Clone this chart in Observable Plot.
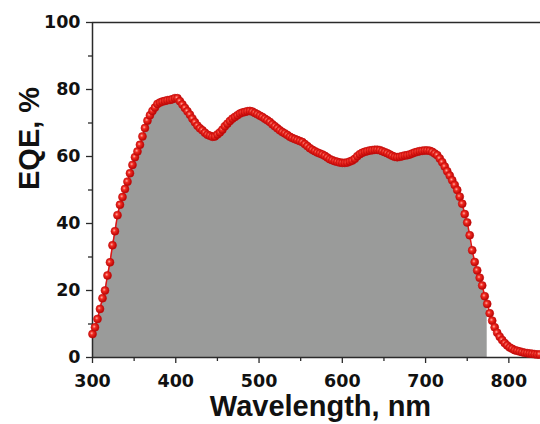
<!DOCTYPE html>
<html>
<head>
<meta charset="utf-8">
<script src="https://cdn.jsdelivr.net/npm/d3@7"></script>
<script src="https://cdn.jsdelivr.net/npm/@observablehq/plot@0.6"></script>
<style>
html, body { margin: 0; padding: 0; background: #fff; overflow: hidden; }
#chart { width: 540px; height: 424px; overflow: hidden; }
</style>
</head>
<body>
<div id="chart"></div>
<script>
const wavelength = [
300,303,306,309,312,315,318,321,324,327,330,333,336,339,342,345,348,351,354,357,
360,363,366,369,372,375,378,381,384,387,390,393,396,399,402,405,408,411,414,417,
420,423,426,429,432,435,438,441,444,447,450,453,456,459,462,465,468,471,474,477,
480,483,486,489,492,495,498,501,504,507,510,513,516,519,522,525,528,531,534,537,
540,543,546,549,552,555,558,561,564,567,570,573,576,579,582,585,588,591,594,597,
600,603,606,609,612,615,618,621,624,627,630,633,636,639,642,645,648,651,654,657,
660,663,666,669,672,675,678,681,684,687,690,693,696,699,702,705,708,711,714,717,
720,723,726,729,732,735,738,741,744,747,750,753,756,759,762,765,768,771,774,777,
780,783,786,789,792,795,798,801,804,807,810,813,816,819,822,825,828,831,834,837
];
const eqe = [
7,9,11.5,14.5,17.7,20,24.5,28.4,33.5,37.7,42.5,45.6,47.9,50.3,52.5,55,57.5,59.8,61.5,63.5,
66,68.5,70.7,72.3,73.6,74.6,75.7,76.1,76.4,76.6,76.8,76.9,77.1,77.4,77.4,76.5,75.5,74.5,73.5,72.5,
71.3,70.2,69.2,68.4,67.8,67.1,66.5,66.2,65.9,66,66.6,67.2,68,69,69.8,70.6,71.3,71.8,72.3,72.8,
73.1,73.3,73.5,73.6,73.4,73,72.6,72.2,71.8,71.3,70.8,70.3,69.6,69,68.4,67.8,67.3,66.9,66.4,65.9,
65.5,65.2,64.9,64.6,64.3,63.7,63.1,62.5,62,61.6,61.2,60.9,60.6,60.2,59.7,59.2,58.9,58.6,58.4,58.2,
58.1,58.1,58.2,58.5,58.8,59.3,60.1,60.7,61.1,61.4,61.6,61.8,61.9,62,62,61.9,61.6,61.3,61,60.6,
60.2,59.9,59.8,59.9,60.1,60.3,60.4,60.6,60.9,61.2,61.4,61.6,61.7,61.8,61.8,61.7,61.4,60.9,60.4,59.4,
58.3,57,55.6,54.3,52.9,51.5,50,48,45.9,42.8,40.3,36.5,32,28.5,26,23.8,21.5,18.3,16,13.2,
11,9,7.4,6.2,5.2,4.3,3.6,3.0,2.6,2.2,2.0,1.8,1.6,1.4,1.3,1.2,1.1,1.0,0.9,0.9
];
const xMajor = [300, 400, 500, 600, 700, 800];
const xMinor = [350, 450, 550, 650, 750];
const yMajor = [0, 20, 40, 60, 80, 100];
const yMinor = [10, 30, 50, 70, 90];
const xTitle = "Wavelength, nm";
const yTitle = "EQE, %";
const fillEnd = 776;

const data = wavelength.map((w, i) => ({w, v: eqe[i]}));
const filled = data.filter(d => d.w <= fillEnd);

const tickFont = "DejaVu Sans";
const axisColor = "#2a2a2a";

const plot = Plot.plot({
  width: 540,
  height: 424,
  marginLeft: 92,
  marginRight: 0,
  marginTop: 22,
  marginBottom: 67,
  x: {domain: [300, 838], label: null},
  y: {domain: [0, 100], label: null},
  marks: [
    Plot.areaY(filled, {x: "w", y: "v", fill: "#9a9b9a"}),
    Plot.axisX({ticks: xMinor, tickSize: 4, tickFormat: () => "", stroke: axisColor, strokeWidth: 1.3, label: null}),
    Plot.axisX({ticks: xMajor, tickSize: 6, tickPadding: 11, stroke: axisColor, strokeWidth: 1.3,
      fontFamily: tickFont, fontWeight: "bold", fontSize: 17.5, fill: "#111", label: null}),
    Plot.axisY({ticks: yMinor, tickSize: 4, tickFormat: () => "", stroke: axisColor, strokeWidth: 1.3, label: null}),
    Plot.axisY({ticks: yMajor, tickSize: 6, tickPadding: 6, stroke: axisColor, strokeWidth: 1.3,
      fontFamily: tickFont, fontWeight: "bold", fontSize: 17.5, fill: "#111", label: null}),
    Plot.ruleY([0], {stroke: axisColor, strokeWidth: 1.5}),
    Plot.ruleY([100], {stroke: axisColor, strokeWidth: 1.5}),
    Plot.ruleX([300], {stroke: axisColor, strokeWidth: 1.5}),
    Plot.line(data, {x: "w", y: "v", stroke: "#e01515", strokeWidth: 1.5}),
    Plot.dot(data, {x: "w", y: "v", r: 4, fill: "url(#ball)", stroke: "#c40a0a", strokeWidth: 0.6}),
    Plot.text([xTitle], {frameAnchor: "bottom", lineAnchor: "bottom", dy: 58, dx: 4,
      fontFamily: "Liberation Sans", fontWeight: "bold", fontSize: 29, fill: "#111"}),
    Plot.text([yTitle], {frameAnchor: "left", lineAnchor: "bottom", rotate: -90, dx: -54,
      fontFamily: "Liberation Sans", fontWeight: "bold", fontSize: 29, fill: "#111"})
  ]
});

const svgNS = "http://www.w3.org/2000/svg";
const defs = document.createElementNS(svgNS, "defs");
defs.innerHTML = `<radialGradient id="ball" cx="0.4" cy="0.4" r="0.6">
  <stop offset="0" stop-color="#ffb0a8"/>
  <stop offset="0.35" stop-color="#f02a20"/>
  <stop offset="1" stop-color="#b80505"/>
</radialGradient>`;
plot.insertBefore(defs, plot.firstChild);
document.getElementById("chart").appendChild(plot);
</script>
</body>
</html>
